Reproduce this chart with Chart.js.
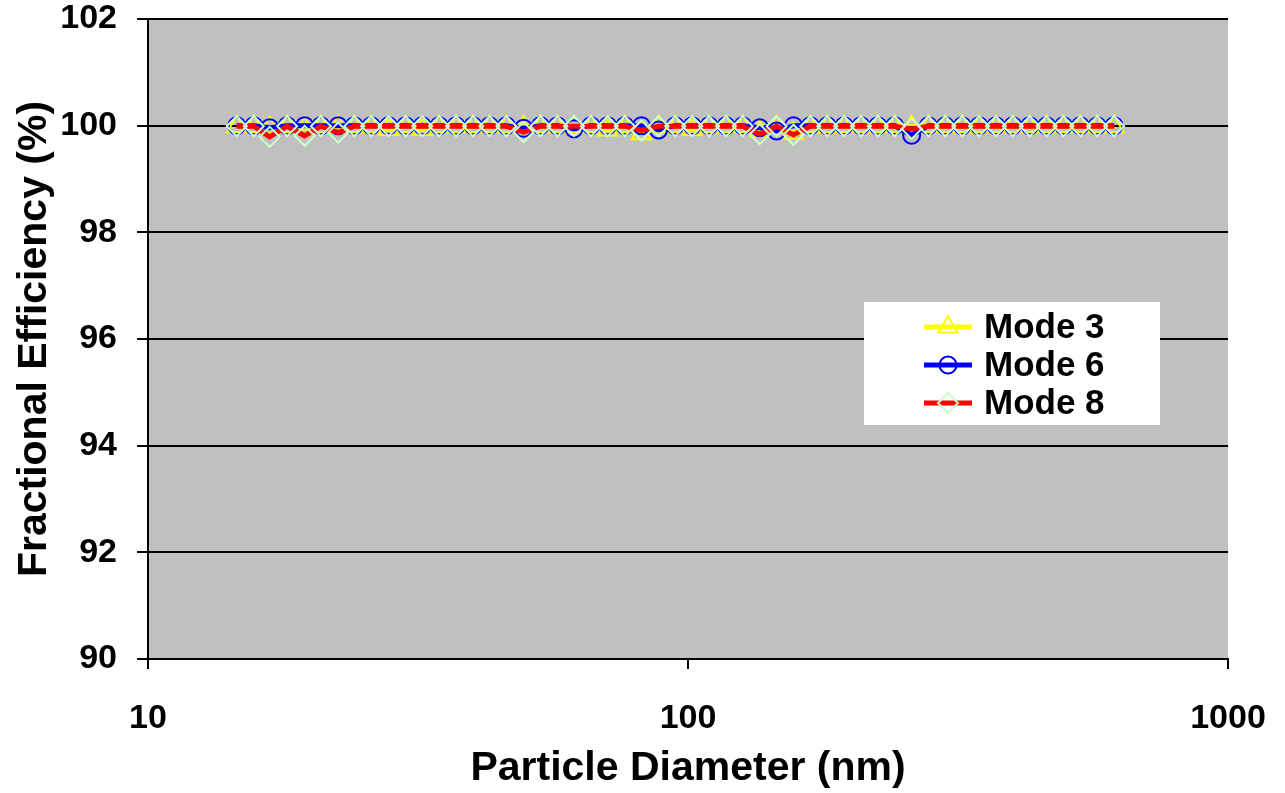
<!DOCTYPE html>
<html>
<head>
<meta charset="utf-8">
<script src="https://cdn.jsdelivr.net/npm/chart.js@4/dist/chart.umd.min.js"></script>
<style>
  html, body { margin: 0; padding: 0; background: #ffffff; }
  #chart { display: block; }
</style>
</head>
<body>
<canvas id="chart" width="1285" height="793"></canvas>
<script>
// particle diameters (nm), SMPS channels
const diameters = [14.6, 15.7, 16.8, 18.1, 19.5, 20.9, 22.5, 24.1, 25.9, 27.9,
  30.0, 32.2, 34.6, 37.2, 40.0, 42.9, 46.1, 49.6, 53.3, 57.3,
  61.5, 66.1, 71.0, 76.4, 82.0, 88.2, 94.7, 101.8, 109.4, 117.6,
  126.3, 135.8, 145.9, 156.8, 168.5, 181.1, 194.6, 209.1, 224.7, 241.4,
  259.5, 278.8, 299.6, 322.0, 346.0, 371.8, 399.5, 429.4, 461.4, 495.8,
  532.8, 572.5, 615.3];

// fractional efficiency (%) per mode
const mode3 = [99.98, 99.98, 99.96, 99.98, 99.95, 99.98, 99.98, 99.98, 99.98, 99.93,
  99.98, 99.93, 99.98, 99.98, 99.98, 99.98, 99.98, 99.98, 99.98, 99.98,
  99.98, 99.98, 99.92, 99.98, 99.85, 99.98, 99.98, 99.93, 99.98, 99.98,
  99.98, 99.90, 99.98, 99.86, 99.98, 99.98, 99.98, 99.98, 99.98, 99.98,
  99.98, 99.98, 99.98, 99.98, 99.98, 99.98, 99.98, 99.98, 99.98, 99.98,
  99.98, 99.98, 99.98];
const mode6 = [100, 100, 99.96, 100, 100, 100, 100, 100, 100, 100,
  100, 100, 100, 100, 100, 100, 100, 99.95, 100, 100,
  99.94, 100, 100, 100, 100, 99.92, 100, 100, 100, 100,
  100, 99.96, 99.90, 100, 100, 100, 100, 100, 100, 100,
  99.82, 100, 100, 100, 100, 100, 100, 100, 100, 100,
  100, 100, 100];
const mode8 = [99.99, 99.99, 99.79, 99.99, 99.81, 99.99, 99.87, 99.99, 99.99, 99.99,
  99.99, 99.99, 99.99, 99.99, 99.99, 99.99, 99.99, 99.88, 99.99, 99.99,
  99.99, 99.99, 99.99, 99.99, 99.91, 99.99, 99.99, 99.99, 99.99, 99.99,
  99.99, 99.84, 99.99, 99.83, 99.99, 99.99, 99.99, 99.99, 99.99, 99.99,
  99.94, 99.99, 99.99, 99.99, 99.99, 99.99, 99.99, 99.99, 99.99, 99.99,
  99.99, 99.99, 99.99];

// axis ticks
const xTicks = [10, 100, 1000];
const yTicks = [90, 92, 94, 96, 98, 100, 102];

const FONT = "'Liberation Sans', Arial, Helvetica, sans-serif";

function pts(values) {
  return values.map((v, i) => ({ x: diameters[i], y: v }));
}

// gray plot area behind everything
const plotBg = {
  id: 'plotBg',
  beforeDraw(chart) {
    const { ctx, chartArea: a } = chart;
    ctx.save();
    ctx.fillStyle = '#c0c0c0';
    ctx.fillRect(a.left, a.top, a.right - a.left, a.bottom - a.top);
    ctx.restore();
  }
};

// legend box inside the plot
const boxLegend = {
  id: 'boxLegend',
  afterDraw(chart) {
    const { ctx } = chart;
    ctx.save();
    ctx.fillStyle = '#ffffff';
    ctx.fillRect(864, 302, 296, 123);
    const rows = [327, 365, 403];
    chart.data.datasets.forEach((ds, i) => {
      const y = rows[i];
      ctx.strokeStyle = ds.borderColor;
      ctx.lineWidth = 5;
      ctx.beginPath();
      ctx.moveTo(924, y);
      ctx.lineTo(972, y);
      ctx.stroke();
      ctx.strokeStyle = ds.pointBorderColor;
      ctx.fillStyle = 'rgba(0,0,0,0)';
      ctx.lineWidth = 2;
      Chart.helpers.drawPoint(ctx, {
        pointStyle: ds.pointStyle, radius: ds.pointRadius, rotation: 0, borderWidth: 2
      }, 948, y);
      ctx.fillStyle = '#000000';
      ctx.font = 'bold 35px ' + FONT;
      ctx.textBaseline = 'middle';
      ctx.textAlign = 'left';
      ctx.fillText(ds.label, 984, y + 1);
    });
    ctx.restore();
  }
};

new Chart(document.getElementById('chart'), {
  type: 'line',
  data: {
    datasets: [
      {
        label: 'Mode 3', data: pts(mode3), order: 3,
        borderColor: '#ffff00', borderWidth: 5,
        pointStyle: 'triangle', pointRadius: 11, pointBorderWidth: 2,
        pointBorderColor: '#ffff00', pointBackgroundColor: 'rgba(0,0,0,0)'
      },
      {
        label: 'Mode 6', data: pts(mode6), order: 2,
        borderColor: '#0000ff', borderWidth: 5,
        pointStyle: 'circle', pointRadius: 8.5, pointBorderWidth: 2,
        pointBorderColor: '#0000ff', pointBackgroundColor: 'rgba(0,0,0,0)'
      },
      {
        label: 'Mode 8', data: pts(mode8), order: 1,
        borderColor: '#ff0000', borderWidth: 5,
        pointStyle: 'rectRot', pointRadius: 10, pointBorderWidth: 2,
        pointBorderColor: '#ccffcc', pointBackgroundColor: 'rgba(0,0,0,0)'
      }
    ]
  },
  options: {
    responsive: false,
    animation: false,
    devicePixelRatio: 1,
    layout: { padding: { top: 19, right: 57, left: 0, bottom: 0 } },
    plugins: {
      legend: { display: false },
      tooltip: { enabled: false }
    },
    scales: {
      x: {
        type: 'logarithmic',
        min: 10,
        max: 1000,
        afterBuildTicks: s => { s.ticks = xTicks.map(v => ({ value: v })); },
        afterFit: s => { s.height = 134; s.paddingLeft = 0; s.paddingRight = 0; },
        border: { display: true, color: '#000000', width: 2 },
        grid: { drawOnChartArea: false, drawTicks: true, tickLength: 10, color: '#000000', lineWidth: 2 },
        ticks: {
          color: '#000000', padding: 33, maxRotation: 0, autoSkip: false,
          font: { family: FONT, size: 34, weight: 'bold', lineHeight: 1 },
          callback: v => String(v)
        },
        title: {
          display: true, text: 'Particle Diameter (nm)', color: '#000000',
          font: { family: FONT, size: 41, weight: 'bold' },
          padding: { top: 0, bottom: 0 }
        }
      },
      y: {
        min: 90,
        max: 102,
        afterBuildTicks: s => { s.ticks = yTicks.map(v => ({ value: v })); },
        afterFit: s => { s.width = 148; s.paddingTop = 0; s.paddingBottom = 0; },
        border: { display: true, color: '#000000', width: 2 },
        grid: { color: '#000000', lineWidth: 2, tickLength: 11 },
        ticks: {
          color: '#000000', padding: 20,
          font: { family: FONT, size: 34, weight: 'bold', lineHeight: 1 }
        },
        title: {
          display: true, text: 'Fractional Efficiency (%)', color: '#000000',
          font: { family: FONT, size: 41, weight: 'bold' },
          padding: { top: 10, bottom: 0 }
        }
      }
    }
  },
  plugins: [plotBg, boxLegend]
});
</script>
</body>
</html>
